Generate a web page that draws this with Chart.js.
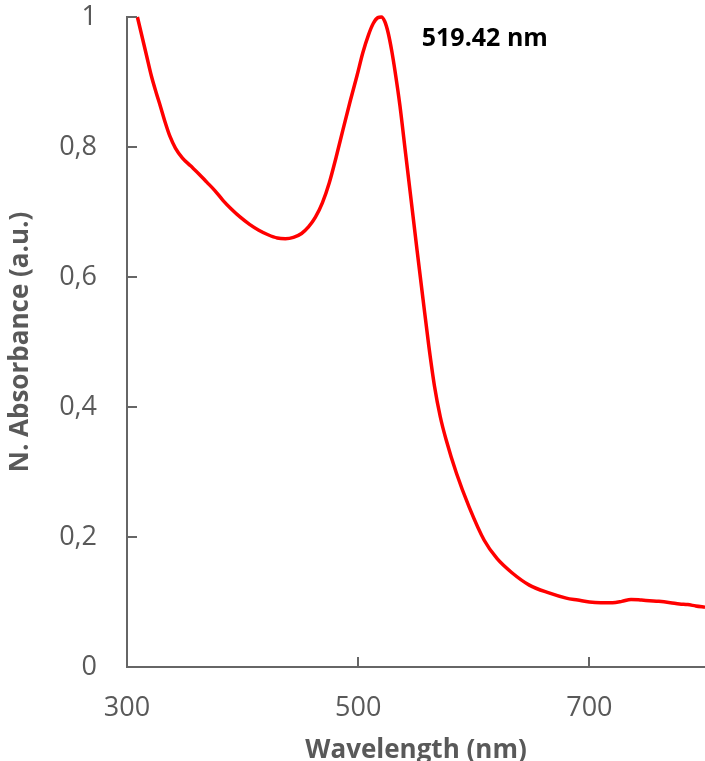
<!DOCTYPE html>
<html>
<head>
<meta charset="utf-8">
<script src="https://cdn.jsdelivr.net/npm/chart.js@4.4.1/dist/chart.umd.min.js"></script>
<style>
html,body{margin:0;padding:0;background:#fff;}
canvas{display:block;}
</style>
</head>
<body>
<canvas id="c" width="705" height="761"></canvas>
<script>
// ---- data ----
const wavelength = [309, 313, 317, 321, 325, 329, 333, 337, 342, 348, 355, 362, 369, 376, 383, 390, 398, 406, 414, 422, 430, 437, 444, 451, 457, 463, 469, 475, 481, 487, 493, 499, 504, 509, 513, 517, 520, 523, 526, 529, 532, 536, 541, 546, 551, 556, 561, 566, 571, 576, 585, 596, 609, 620, 633, 648, 665, 680, 690, 700, 710, 720, 728, 736, 745, 752, 760, 770, 778, 785, 792, 800];
const absorbance = [1.000, 0.970, 0.940, 0.910, 0.885, 0.862, 0.838, 0.817, 0.798, 0.783, 0.771, 0.759, 0.746, 0.733, 0.718, 0.705, 0.692, 0.681, 0.672, 0.665, 0.660, 0.659, 0.661, 0.667, 0.677, 0.692, 0.714, 0.745, 0.785, 0.828, 0.870, 0.910, 0.945, 0.973, 0.990, 0.999, 1.000, 0.993, 0.975, 0.948, 0.915, 0.865, 0.790, 0.715, 0.640, 0.567, 0.495, 0.432, 0.385, 0.350, 0.298, 0.246, 0.195, 0.167, 0.145, 0.126, 0.114, 0.106, 0.103, 0.100, 0.099, 0.099, 0.101, 0.104, 0.103, 0.102, 0.101, 0.099, 0.097, 0.096, 0.094, 0.092];
const xTicks = [300, 500, 700];
const yTicks = [0, 0.2, 0.4, 0.6, 0.8, 1];
const xTitle = 'Wavelength (nm)';
const yTitle = 'N. Absorbance (a.u.)';
const peakLabel = '519.42 nm';
const peakLabelPos = [555, 0.967];

const AXIS = '#666666';
const TXT = '#595959';
const FAM = '"Open Sans", "Liberation Sans", sans-serif';

const innerTicks = {
  id: 'innerTicks',
  afterDraw(chart) {
    const {ctx, chartArea, scales} = chart;
    ctx.save();
    ctx.strokeStyle = AXIS;
    ctx.lineWidth = 2;
    ctx.beginPath();
    yTicks.forEach(v => {
      const y = Math.round(scales.y.getPixelForValue(v));
      ctx.moveTo(chartArea.left, y);
      ctx.lineTo(chartArea.left + 10, y);
    });
    xTicks.forEach(v => {
      const x = Math.round(scales.x.getPixelForValue(v));
      ctx.moveTo(x, chartArea.bottom);
      ctx.lineTo(x, chartArea.bottom - 10);
    });
    ctx.stroke();
    // peak annotation
    ctx.fillStyle = '#000';
    ctx.font = 'bold 25px ' + FAM;
    ctx.textAlign = 'left';
    ctx.textBaseline = 'middle';
    ctx.fillText(peakLabel, scales.x.getPixelForValue(peakLabelPos[0]), scales.y.getPixelForValue(peakLabelPos[1]));
    ctx.restore();
  }
};

function build() {
  new Chart(document.getElementById('c'), {
    type: 'line',
    data: {
      datasets: [{
        data: wavelength.map((w, i) => ({x: w, y: absorbance[i]})),
        borderColor: '#ff0000',
        borderWidth: 3.5,
        pointRadius: 0,
        cubicInterpolationMode: 'monotone',
        fill: false,
        clip: 4
      }]
    },
    options: {
      responsive: false,
      animation: false,
      events: [],
      layout: {padding: {top: 17, right: 0, left: 0, bottom: 0}},
      plugins: {legend: {display: false}, tooltip: {enabled: false}},
      scales: {
        x: {
          type: 'linear',
          min: 300, max: 800,
          afterBuildTicks: s => { s.ticks = xTicks.map(v => ({value: v})); },
          afterFit: s => { s.height = 94; s.paddingLeft = 0; s.paddingRight = 0; },
          grid: {display: false, drawTicks: false},
          border: {display: true, color: AXIS, width: 2},
          ticks: {color: TXT, font: {family: FAM, size: 27}, padding: 25, maxRotation: 0, autoSkip: false},
          title: {display: true, text: xTitle, color: TXT, font: {family: FAM, size: 26, weight: 'bold', lineHeight: 1}, padding: {top: 0, bottom: -3}}
        },
        y: {
          type: 'linear',
          min: 0, max: 1,
          afterBuildTicks: s => { s.ticks = yTicks.map(v => ({value: v})); },
          afterFit: s => { s.width = 127; s.paddingTop = 0; s.paddingBottom = 0; },
          grid: {display: false, drawTicks: false},
          border: {display: true, color: AXIS, width: 2},
          ticks: {color: TXT, font: {family: FAM, size: 27}, padding: 30,
            callback: v => String(Number(v.toFixed(1))).replace('.', ',')},
          title: {display: true, text: yTitle, color: TXT, font: {family: FAM, size: 26, weight: 'bold', lineHeight: 1}, padding: {top: 8, bottom: 0}}
        }
      }
    },
    plugins: [innerTicks]
  });
}

if (document.fonts && document.fonts.load) {
  Promise.all([
    document.fonts.load('27px "Open Sans"'),
    document.fonts.load('bold 26px "Open Sans"')
  ]).then(build, build);
} else build();
</script>
</body>
</html>
